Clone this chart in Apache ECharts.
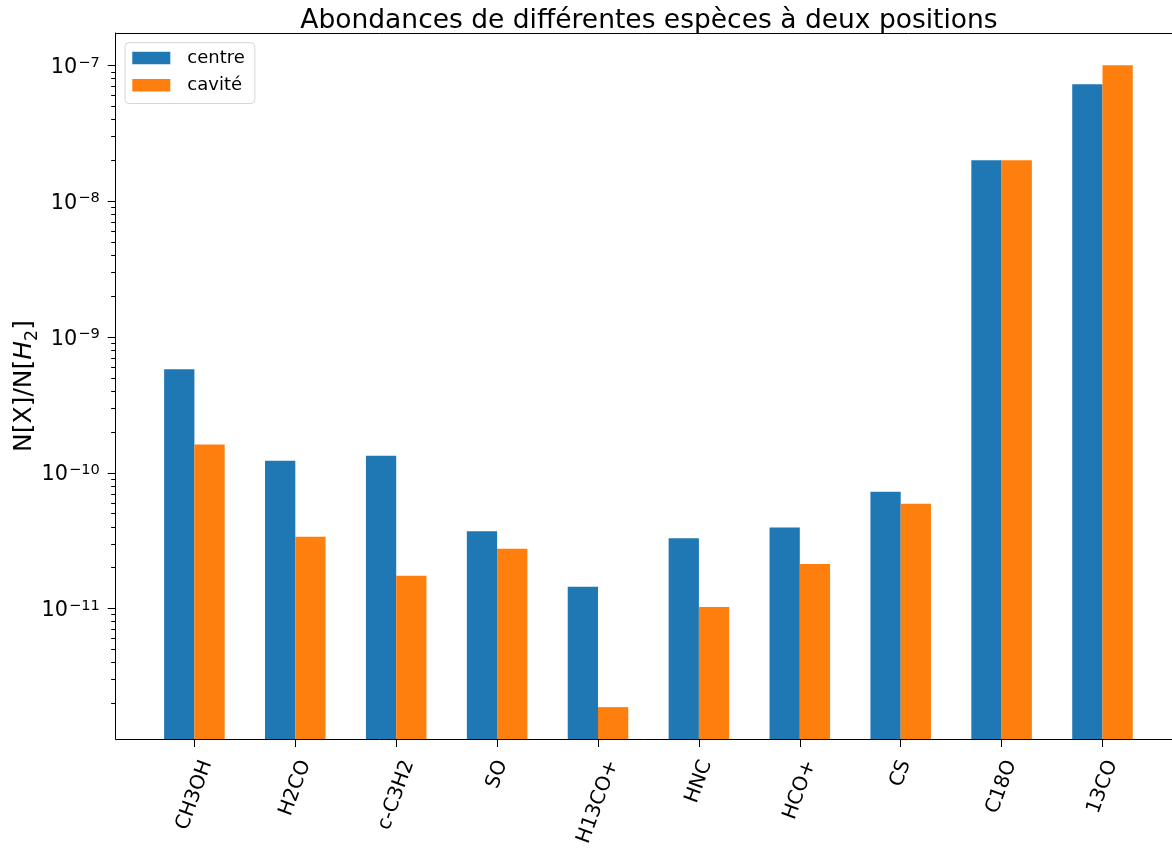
<!DOCTYPE html>
<html><head><meta charset="utf-8">
<script src="https://cdn.jsdelivr.net/npm/echarts@6/dist/echarts.min.js"></script>
<style>html,body{margin:0;padding:0;background:#fff}#c{width:1172px;height:850px}</style>
</head><body><div id="c"></div>
<script>
const categories = ['CH3OH','H2CO','c-C3H2','SO','H13CO+','HNC','HCO+','CS','C18O','13CO'];
const centre = [5.76e-10, 1.22e-10, 1.33e-10, 3.69e-11, 1.44e-11, 3.28e-11, 3.93e-11, 7.22e-11, 2.0e-8, 7.24e-8];
const cavite = [1.61e-10, 3.37e-11, 1.74e-11, 2.74e-11, 1.87e-12, 1.02e-11, 2.12e-11, 5.90e-11, 2.0e-8, 1.0e-7];
const majorTicks = [1e-11, 1e-10, 1e-9, 1e-8, 1e-7];
const minorMultipliers = [2,3,4,5,6,7,8,9];
const minorDecades = [1e-12, 1e-11, 1e-10, 1e-9, 1e-8];
const yMin = 1.089e-12, yMax = 1.73e-7;
const xMin = -0.78, xMax = 9.78;

const FONT = '"DejaVu Sans"';
const minorTicks = [];
minorDecades.forEach(d => minorMultipliers.forEach(m => minorTicks.push(m * d)));

// measure label widths for rotated label placement (matplotlib-like centering)
const cv = document.createElement('canvas').getContext('2d');
const XFS = 20;
cv.font = XFS + 'px ' + FONT;
const rich = {};
categories.forEach((c, i) => {
  const L = cv.measureText(c).width;
  rich['l' + i] = {fontSize: XFS, fontFamily: FONT, color: '#000',
    padding: [0.3215 * L, 0.883 * L, 0, 0]};
});

const chart = echarts.init(document.getElementById('c'), null, {renderer: 'canvas'});

function tickRender(len) {
  return function (params, api) {
    const pt = api.coord([0, api.value(1)]);
    const x0 = params.coordSys.x;
    return {type: 'line', shape: {x1: x0 - len, y1: Math.round(pt[1]) + 0.5, x2: x0, y2: Math.round(pt[1]) + 0.5},
      style: {stroke: '#000', lineWidth: 1}};
  };
}

const idx = categories.map((_, i) => i);

chart.setOption({
  animation: false,
  backgroundColor: '#fff',
  title: {
    text: 'Abondances de différentes espèces à deux positions',
    left: 644, textAlign: 'center', top: 3,
    textStyle: {fontSize: 26.5, fontWeight: 'normal', fontFamily: FONT, color: '#000'}
  },
  legend: {
    data: ['centre', 'cavité'], orient: 'vertical', left: 125, top: 42.7,
    itemWidth: 38, itemHeight: 12.5, itemGap: 9.3,
    padding: [6.2, 10, 9.3, 7.3],
    borderColor: '#d6d6d6', borderWidth: 1, borderRadius: 4,
    backgroundColor: 'rgba(255,255,255,0.8)',
    icon: 'rect',
    textStyle: {fontSize: 18, fontFamily: FONT, color: '#000', padding: [0, 0, 0, 12]}
  },
  grid: {left: 115.7, top: 33, right: -9.2, bottom: 111, outerBoundsMode: 'none', containLabel: false},
  xAxis: [{
    type: 'value', min: xMin, max: xMax,
    axisLine: {show: true, onZero: false, lineStyle: {color: '#000', width: 1}},
    splitLine: {show: false},
    axisTick: {show: true, customValues: idx, length: 8, lineStyle: {color: '#000'}},
    axisLabel: {
      customValues: idx, rotate: 70, align: 'center', verticalAlign: 'middle', margin: 22,
      formatter: v => '{l' + v + '|' + categories[v] + '}', rich: rich
    }
  }, {
    type: 'value', position: 'top', min: xMin, max: xMax,
    axisLine: {show: true, onZero: false, lineStyle: {color: '#000', width: 1}},
    axisTick: {show: false}, axisLabel: {show: false}, splitLine: {show: false}
  }],
  yAxis: {
    type: 'log', logBase: 10, min: yMin, max: yMax, startValue: yMin,
    axisLine: {show: true, onZero: false, lineStyle: {color: '#000', width: 1}},
    axisTick: {show: false}, minorTick: {show: false}, splitLine: {show: false},
    axisLabel: {
      showMinLabel: false, showMaxLabel: false, margin: 16, padding: [5, 0, 0, 0],
      formatter: v => {
        const e = Math.round(Math.log10(v));
        return '{b|10}{s|' + (e < 0 ? '\u2212' : '') + Math.abs(e) + '}';
      },
      rich: {
        b: {fontSize: 20.8, fontFamily: FONT, color: '#000'},
        s: {fontSize: 14.6, fontFamily: FONT, color: '#000', padding: [0, 0, 10, 1]}
      }
    },
    name: '{a|N[X]/N[}{i|H}{s|2}{a|]}',
    nameLocation: 'middle', nameRotate: 90, nameGap: 74, nameMoveOverlap: false,
    nameTextStyle: {
      rich: {
        a: {fontSize: 25, fontFamily: FONT, color: '#000'},
        i: {fontSize: 25, fontFamily: FONT, fontStyle: 'italic', color: '#000'},
        s: {fontSize: 17.5, fontFamily: FONT, color: '#000', padding: [16, 0, 0, 0]}
      }
    }
  },
  series: [
    {name: 'centre', type: 'bar', data: centre.map((v, i) => [i, v]),
      barWidth: 30.27, barGap: '0%', itemStyle: {color: '#1f77b4'}},
    {name: 'cavité', type: 'bar', data: cavite.map((v, i) => [i, v]),
      barWidth: 30.27, barGap: '0%', itemStyle: {color: '#ff7f0e'}},
    {type: 'custom', silent: true, renderItem: tickRender(8), data: majorTicks.map(v => [0, v]), z: 5},
    {type: 'custom', silent: true, renderItem: tickRender(4.5), data: minorTicks.map(v => [0, v]), z: 5}
  ]
});
</script>
</body></html>
